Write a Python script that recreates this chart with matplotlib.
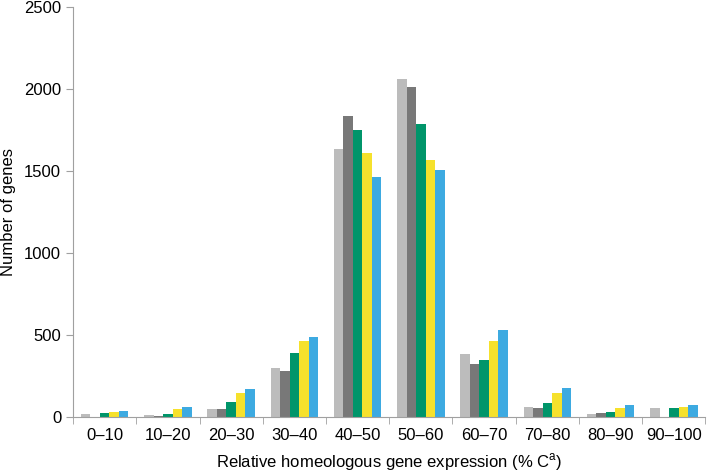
import matplotlib.pyplot as plt
import numpy as np

# Datos
categorias = ['0–10', '10–20', '20–30', '30–40', '40–50',
              '50–60', '60–70', '70–80', '80–90', '90–100']
serie_1 = [20, 15, 50, 300, 1635, 2060, 385, 60, 22, 55]
serie_2 = [3, 5, 50, 280, 1835, 2015, 325, 55, 25, 3]
serie_3 = [25, 18, 95, 390, 1750, 1790, 350, 85, 35, 58]
serie_4 = [35, 50, 145, 465, 1610, 1570, 465, 150, 58, 60]
serie_5 = [38, 60, 175, 488, 1465, 1505, 530, 180, 75, 75]
yticks = [0, 500, 1000, 1500, 2000, 2500]

series = [serie_1, serie_2, serie_3, serie_4, serie_5]
colores = ['#bcbcbc', '#787878', '#00956a', '#f6e12c', '#3daae1']

plt.rcParams['font.family'] = ['Liberation Sans', 'DejaVu Sans']
plt.rcParams['mathtext.fontset'] = 'custom'
plt.rcParams['mathtext.rm'] = 'Liberation Sans'

fig = plt.figure(figsize=(7.09, 4.72), dpi=100)
ax = fig.add_axes([0.103, 0.116, 0.892, 0.869])

x = np.arange(len(categorias))
ancho = 0.15
for i, (s, c) in enumerate(zip(series, colores)):
    ax.bar(x + (i - 2) * ancho, s, width=ancho, color=c, linewidth=0)

gris = '#a0a0a0'
ax.set_xlim(-0.5, len(categorias) - 0.5)
ax.set_ylim(0, 2500)
ax.set_yticks(yticks)
ax.set_yticklabels([str(v) for v in yticks], fontsize=12)
ax.set_xticks(x)
ax.set_xticklabels(categorias, fontsize=12)
ax.set_xticks(np.arange(-0.5, len(categorias)), minor=True)
ax.tick_params(axis='x', which='major', length=0, pad=8)
ax.tick_params(axis='x', which='minor', length=5, color=gris, direction='out')
ax.tick_params(axis='y', length=5, color=gris, direction='out')

for lado in ['top', 'right']:
    ax.spines[lado].set_visible(False)
for lado in ['left', 'bottom']:
    ax.spines[lado].set_color(gris)
    ax.spines[lado].set_linewidth(0.8)

ax.set_ylabel('Number of genes', fontsize=12, labelpad=6)
ax.set_xlabel('Relative homeologous gene expression (% C$^{\\mathrm{a}}$)', fontsize=12, labelpad=6)

plt.savefig('out.png', dpi=100)
